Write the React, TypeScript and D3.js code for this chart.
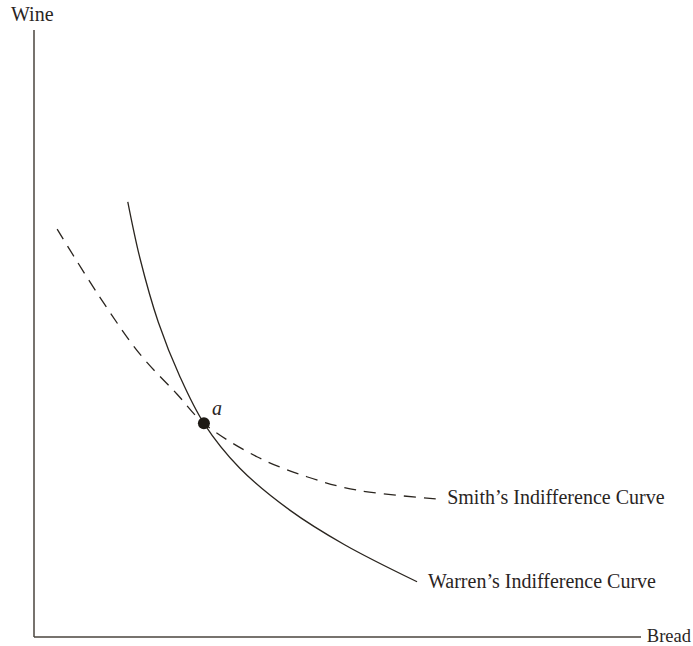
import React from "react";
import * as d3 from "d3";

// Axis domain (abstract units)
const xDomain: [number, number] = [0, 10];
const yDomain: [number, number] = [0, 10];

// Warren's indifference curve (Bread, Wine)
const warrenBread = [1.54, 1.74, 2.04, 2.4, 2.79, 3.38, 4.2, 5.1, 6.29];
const warrenWine = [7.17, 6.24, 5.19, 4.28, 3.52, 2.78, 2.09, 1.52, 0.91];

// Smith's indifference curve (Bread, Wine)
const smithBread = [0.38, 1.08, 1.74, 2.35, 2.79, 3.66, 4.48, 5.3, 6.67];
const smithWine = [6.72, 5.6, 4.66, 4.0, 3.52, 2.97, 2.64, 2.42, 2.27];

// Point a
const pointA = { bread: 2.79, wine: 3.52, label: "a" };

const labels = {
  x: "Bread",
  y: "Wine",
  smith: "Smith\u2019s Indifference Curve",
  warren: "Warren\u2019s Indifference Curve",
};

export default function App() {
  const W = 693;
  const H = 646;
  const x = d3.scaleLinear().domain(xDomain).range([34, 643]);
  const y = d3.scaleLinear().domain(yDomain).range([637, 30]);

  const line = d3
    .line<[number, number]>()
    .x((d) => x(d[0]))
    .y((d) => y(d[1]))
    .curve(d3.curveCatmullRom.alpha(0.5));

  const warren: [number, number][] = warrenBread.map((b, i) => [b, warrenWine[i]]);
  const smith: [number, number][] = smithBread.map((b, i) => [b, smithWine[i]]);

  const ink = "#2a251f";
  const font = "'Liberation Serif', 'Times New Roman', serif";
  const fs = 20;

  const smithEnd = smith[smith.length - 1];
  const warrenEnd = warren[warren.length - 1];

  return (
    <svg
      width={W}
      height={H}
      style={{ position: "absolute", left: 0, top: 0, background: "#fff" }}
    >
      {/* axes */}
      <line x1={x(0)} y1={y(0)} x2={x(0)} y2={y(10)} stroke="#4a453e" strokeWidth={1.5} />
      <line x1={x(0)} y1={y(0)} x2={x(10) - 2} y2={y(0)} stroke="#4a453e" strokeWidth={1.5} />
      <text x={11} y={21} fontFamily={font} fontSize={fs} fill={ink}>
        {labels.y}
      </text>
      <text x={W - 2} y={y(0) + 5} fontFamily={font} fontSize={18.5} textAnchor="end" fill={ink}>
        {labels.x}
      </text>

      {/* curves */}
      <path d={line(smith) || ""} fill="none" stroke={ink} strokeWidth={1.3} strokeDasharray="12,8" />
      <path d={line(warren) || ""} fill="none" stroke={ink} strokeWidth={1.3} />

      {/* point a */}
      <circle cx={x(pointA.bread)} cy={y(pointA.wine)} r={6} fill="#1e1a15" />
      <text
        x={x(pointA.bread) + 8}
        y={y(pointA.wine) - 8}
        fontFamily={font}
        fontStyle="italic"
        fontSize={20}
        fill={ink}
      >
        {pointA.label}
      </text>

      {/* curve labels */}
      <text x={x(smithEnd[0]) + 7} y={y(smithEnd[1]) + 5} fontFamily={font} fontSize={fs} fill={ink}>
        {labels.smith}
      </text>
      <text x={x(warrenEnd[0]) + 11} y={y(warrenEnd[1]) + 6} fontFamily={font} fontSize={fs} fill={ink}>
        {labels.warren}
      </text>
    </svg>
  );
}
